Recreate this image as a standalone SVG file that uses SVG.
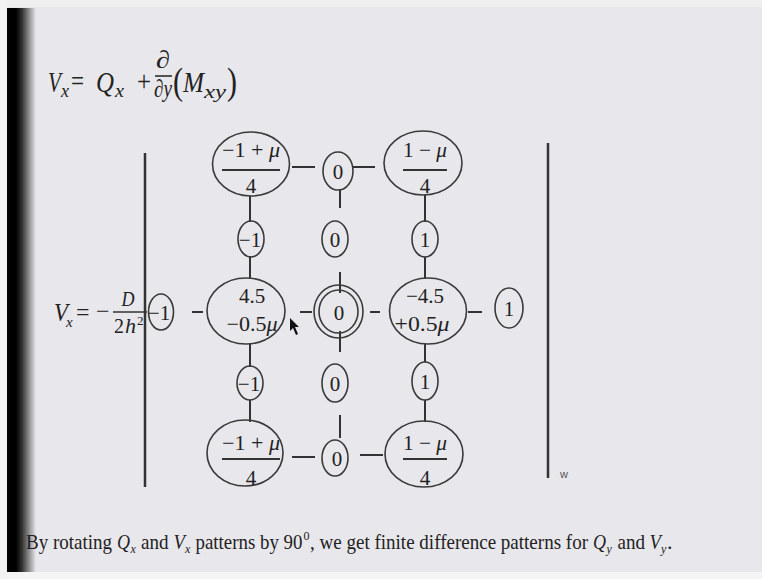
<svg xmlns="http://www.w3.org/2000/svg" width="762" height="579" viewBox="0 0 762 579">
<defs>
<linearGradient id="lg" x1="0" y1="0" x2="1" y2="0">
<stop offset="0" stop-color="#000"/>
<stop offset="0.3" stop-color="#333"/>
<stop offset="1" stop-color="#e8e7eb"/>
</linearGradient>
<style>
.t{font-family:"Liberation Serif","Times New Roman",serif;fill:#222}
.i{font-style:italic}
.e{fill:none;stroke:#3a3a3a;stroke-width:1.6}
.c{stroke:#333;stroke-width:2;fill:none}
.b{stroke:#333;stroke-width:2}
.bt{font-size:22px}
.sb{font-size:12px;font-style:italic}
</style>
</defs>
<rect width="762" height="579" fill="#e8e7eb"/>
<rect x="0" y="0" width="762" height="7" fill="#efeff0"/>
<rect x="0" y="572" width="762" height="7" fill="#f4f4f4"/>
<rect x="0" y="0" width="7" height="579" fill="#f2f2f2"/>
<rect x="7" y="8" width="9" height="564" fill="#000"/>
<rect x="16" y="8" width="20" height="564" fill="url(#lg)"/>

<!-- top formula -->
<g id="formula-top" class="t i">
<text x="48" y="92" font-size="30" textLength="13" lengthAdjust="spacingAndGlyphs">V</text>
<text x="61" y="97" font-size="18" textLength="8" lengthAdjust="spacingAndGlyphs">x</text>
<text x="71" y="91" font-size="30" font-style="normal" textLength="13" lengthAdjust="spacingAndGlyphs">=</text>
<text x="96" y="92" font-size="30" textLength="18" lengthAdjust="spacingAndGlyphs">Q</text>
<text x="115" y="97" font-size="18" textLength="9" lengthAdjust="spacingAndGlyphs">x</text>
<text x="137" y="91" font-size="30" font-style="normal" textLength="14" lengthAdjust="spacingAndGlyphs">+</text>
<text x="156" y="68" font-size="25" textLength="14" lengthAdjust="spacingAndGlyphs">∂</text>
<line x1="155" y1="76" x2="172" y2="76" stroke="#222" stroke-width="1.5"/>
<text x="154" y="97" font-size="25" textLength="18" lengthAdjust="spacingAndGlyphs">∂y</text>
<text x="173" y="94" font-size="38" font-style="normal" textLength="10" lengthAdjust="spacingAndGlyphs">(</text>
<text x="183" y="92" font-size="30" textLength="21" lengthAdjust="spacingAndGlyphs">M</text>
<text x="204" y="98" font-size="19" textLength="22" lengthAdjust="spacingAndGlyphs">xy</text>
<text x="227" y="94" font-size="38" font-style="normal" textLength="10" lengthAdjust="spacingAndGlyphs">)</text>
</g>

<!-- left formula -->
<g id="formula-left" class="t">
<text x="54" y="321" font-size="26" class="i" textLength="14" lengthAdjust="spacingAndGlyphs">V</text>
<text x="66" y="327" font-size="15" class="i">x</text>
<text x="76" y="320" font-size="24">=</text>
<text x="96" y="319" font-size="24">−</text>
<text x="128" y="306" font-size="22" class="i" text-anchor="middle" textLength="13" lengthAdjust="spacingAndGlyphs">D</text>
<line x1="113" y1="312" x2="147" y2="312" stroke="#333" stroke-width="1.5"/>
<text x="114" y="333" font-size="22" textLength="10" lengthAdjust="spacingAndGlyphs">2</text>
<text x="125" y="333" font-size="22" class="i" textLength="11" lengthAdjust="spacingAndGlyphs">h</text>
<text x="137" y="325" font-size="13">2</text>
</g>

<!-- brackets -->
<g id="brackets">
<line x1="145" y1="153" x2="145" y2="487" stroke="#333" stroke-width="2.5"/>
<line x1="548" y1="143" x2="548" y2="478" stroke="#333" stroke-width="2.5"/>
<text x="560" y="478" font-family="Liberation Sans,Arial,sans-serif" font-size="11" fill="#555">w</text>
</g>

<!-- connectors -->
<g id="connectors" class="c">
<line x1="292" y1="167" x2="315" y2="167"/>
<line x1="353" y1="167" x2="375" y2="167"/>
<line x1="250" y1="196" x2="250" y2="222"/>
<line x1="340" y1="189" x2="340" y2="208"/>
<line x1="425" y1="195" x2="425" y2="222"/>
<line x1="250" y1="256" x2="250" y2="278"/>
<line x1="340" y1="272" x2="340" y2="293"/>
<line x1="425" y1="257" x2="425" y2="278"/>
<line x1="192" y1="312" x2="203" y2="312"/>
<line x1="300" y1="312" x2="312" y2="312"/>
<line x1="370" y1="312" x2="380" y2="312"/>
<line x1="468" y1="312" x2="482" y2="312"/>
<line x1="250" y1="344" x2="250" y2="367"/>
<line x1="340" y1="331" x2="340" y2="352"/>
<line x1="425" y1="344" x2="425" y2="362"/>
<line x1="250" y1="400" x2="250" y2="422"/>
<line x1="340" y1="415" x2="340" y2="438"/>
<line x1="425" y1="400" x2="425" y2="422"/>
<line x1="292" y1="457" x2="315" y2="457"/>
<line x1="360" y1="455" x2="383" y2="455"/>
</g>

<!-- nodes -->
<g id="n-left" class="t">
<ellipse class="e" cx="161" cy="312" rx="12.5" ry="18"/>
<text x="159" y="320" font-size="21" text-anchor="middle">−1</text>
</g>

<g id="n-top-left" class="t">
<ellipse class="e" cx="251" cy="164" rx="38.5" ry="32"/>
<text x="251" y="157" font-size="21" text-anchor="middle" textLength="58" lengthAdjust="spacingAndGlyphs">−1 + <tspan class="i">μ</tspan></text>
<line class="b" x1="222" y1="170" x2="280" y2="170"/>
<text x="251" y="193" font-size="21" text-anchor="middle">4</text>
</g>
<g id="n-top-mid" class="t">
<ellipse class="e" cx="338" cy="171" rx="15" ry="19"/>
<text x="338" y="179" font-size="21" text-anchor="middle">0</text>
</g>
<g id="n-top-right" class="t">
<ellipse class="e" cx="423" cy="163" rx="39" ry="32"/>
<text x="425" y="157" font-size="21" text-anchor="middle" textLength="44" lengthAdjust="spacingAndGlyphs">1 − <tspan class="i">μ</tspan></text>
<line class="b" x1="403" y1="170" x2="447" y2="170"/>
<text x="425" y="193" font-size="21" text-anchor="middle">4</text>
</g>

<g id="n-r2-left" class="t">
<ellipse class="e" cx="251" cy="239" rx="13" ry="18"/>
<text x="250" y="247" font-size="21" text-anchor="middle">−1</text>
</g>
<g id="n-r2-mid" class="t">
<ellipse class="e" cx="335" cy="239" rx="13" ry="18"/>
<text x="335" y="247" font-size="21" text-anchor="middle">0</text>
</g>
<g id="n-r2-right" class="t">
<ellipse class="e" cx="425" cy="239" rx="13" ry="18"/>
<text x="425" y="247" font-size="21" text-anchor="middle">1</text>
</g>

<g id="n-mid-left" class="t">
<ellipse class="e" cx="246" cy="311" rx="39" ry="33"/>
<text x="252" y="303" font-size="21" text-anchor="middle">4.5</text>
<text x="252" y="331" font-size="21" text-anchor="middle" textLength="51" lengthAdjust="spacingAndGlyphs">−0.5<tspan class="i">μ</tspan></text>
</g>
<g id="n-center" class="t">
<ellipse class="e" cx="338.5" cy="311.5" rx="24.5" ry="26.5"/>
<ellipse class="e" cx="338.5" cy="311.5" rx="19.5" ry="21.5"/>
<text x="339" y="320" font-size="21" text-anchor="middle">0</text>
</g>
<g id="n-mid-right" class="t">
<ellipse class="e" cx="428" cy="311" rx="38.5" ry="33"/>
<text x="425" y="303" font-size="21" text-anchor="middle">−4.5</text>
<text x="422" y="331" font-size="21" text-anchor="middle" textLength="55" lengthAdjust="spacingAndGlyphs">+0.5<tspan class="i">μ</tspan></text>
</g>
<g id="n-right" class="t">
<ellipse class="e" cx="509" cy="308" rx="14" ry="20"/>
<text x="509" y="316" font-size="21" text-anchor="middle">1</text>
</g>

<g id="n-r4-left" class="t">
<ellipse class="e" cx="250" cy="383" rx="13" ry="17"/>
<text x="249" y="391" font-size="21" text-anchor="middle">−1</text>
</g>
<g id="n-r4-mid" class="t">
<ellipse class="e" cx="335" cy="383" rx="13" ry="19"/>
<text x="335" y="391" font-size="21" text-anchor="middle">0</text>
</g>
<g id="n-r4-right" class="t">
<ellipse class="e" cx="425" cy="381" rx="13" ry="19"/>
<text x="425" y="389" font-size="21" text-anchor="middle">1</text>
</g>

<g id="n-bot-left" class="t">
<ellipse class="e" cx="245" cy="453" rx="38" ry="33"/>
<text x="251" y="450" font-size="21" text-anchor="middle" textLength="58" lengthAdjust="spacingAndGlyphs">−1 + <tspan class="i">μ</tspan></text>
<line class="b" x1="222" y1="459" x2="280" y2="459"/>
<text x="251" y="485" font-size="21" text-anchor="middle">4</text>
</g>
<g id="n-bot-mid" class="t">
<ellipse class="e" cx="335" cy="458" rx="13" ry="18"/>
<text x="337" y="466" font-size="21" text-anchor="middle">0</text>
</g>
<g id="n-bot-right" class="t">
<ellipse class="e" cx="424" cy="454" rx="39" ry="33"/>
<text x="425" y="450" font-size="21" text-anchor="middle" textLength="44" lengthAdjust="spacingAndGlyphs">1 − <tspan class="i">μ</tspan></text>
<line class="b" x1="403" y1="459" x2="447" y2="459"/>
<text x="425" y="485" font-size="21" text-anchor="middle">4</text>
</g>

<!-- mouse pointer -->
<polygon points="290,318 290,331 293,328 296,335 298,334 295,327 299,327" fill="#111"/>

<!-- bottom text -->
<g id="caption" class="t">
<text class="bt" x="26" y="549" textLength="86" lengthAdjust="spacingAndGlyphs">By rotating</text>
<text class="bt i" x="117" y="549" textLength="13" lengthAdjust="spacingAndGlyphs">Q</text>
<text class="sb" x="130.5" y="553">x</text>
<text class="bt" x="141" y="549" textLength="27.5" lengthAdjust="spacingAndGlyphs">and</text>
<text class="bt i" x="173.5" y="549" textLength="11.5" lengthAdjust="spacingAndGlyphs">V</text>
<text class="sb" x="185" y="553">x</text>
<text class="bt" x="195.5" y="549" textLength="107" lengthAdjust="spacingAndGlyphs">patterns by 90</text>
<text x="303.5" y="540" font-size="12">0</text>
<text class="bt" x="310" y="549" textLength="278" lengthAdjust="spacingAndGlyphs">, we get finite difference patterns for</text>
<text class="bt i" x="593" y="549" textLength="13" lengthAdjust="spacingAndGlyphs">Q</text>
<text class="sb" x="606.5" y="553">y</text>
<text class="bt" x="617.5" y="549" textLength="27.5" lengthAdjust="spacingAndGlyphs">and</text>
<text class="bt i" x="649.5" y="549" textLength="11.5" lengthAdjust="spacingAndGlyphs">V</text>
<text class="sb" x="661" y="553">y</text>
<text class="bt" x="667" y="549">.</text>
</g>
</svg>
